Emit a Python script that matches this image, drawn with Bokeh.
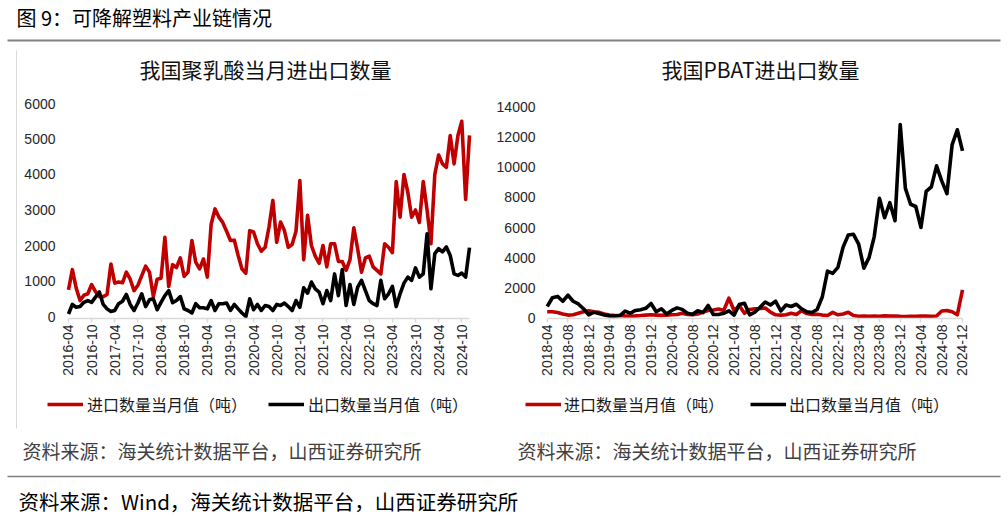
import math
import pandas as pd
from bokeh.plotting import figure
from bokeh.models import (Range1d, FixedTicker, Label, Legend, LegendItem,
                          BoxAnnotation, ColumnDataSource)
from bokeh.layouts import column, row
from bokeh.embed import file_html
from bokeh.resources import INLINE

# ---------------- texts ----------------
FIG_TITLE = "图 9：可降解塑料产业链情况"
FOOT_TEXT = "资料来源：Wind，海关统计数据平台，山西证券研究所"
SRC_TEXT = "资料来源：海关统计数据平台，山西证券研究所"
PLA_TITLE = "我国聚乳酸当月进出口数量"
PBAT_TITLE = "我国PBAT进出口数量"
IMPORT_NAME = "进口数量当月值（吨）"
EXPORT_NAME = "出口数量当月值（吨）"

# ---------------- PLA (monthly, 2016-04 .. 2024-12) ----------------
pla_start = "2016-04"
pla_import = [750, 1320, 800, 450, 600, 640, 900, 700, 560, 560,
              620, 1480, 940, 970, 950, 1250, 1050, 730, 880, 1150,
              1420, 1250, 570, 1050, 1080, 2230, 845, 1460, 1380, 1650,
              1130, 1250, 2140, 1530, 1340, 1620, 1110, 2600, 3030, 2800,
              2650, 2400, 2140, 2150, 1720, 1340, 1220, 2420, 2380, 2050,
              1840, 1950, 2520, 3270, 2090, 2660, 2420, 1950, 2030, 2400,
              3830, 1600, 2850, 2000, 1700, 1500, 2000, 1400, 2050, 2050,
              1550, 1550, 1300, 1600, 2500, 1900, 1250, 1650, 1700, 1400,
              1300, 1200, 2050, 1950, 1800, 3800, 2800, 4000, 3500, 2800,
              3000, 2650, 3800, 3000, 2050, 4000, 4550, 4300, 4200, 5100,
              4300, 5100, 5500, 3300, 5100]
pla_export = [70, 340, 260, 280, 400, 450, 400, 545, 690, 340,
              215, 140, 170, 360, 430, 620, 340, 170, 380, 640,
              280, 470, 500, 190, 400, 590, 730, 390, 450, 560,
              215, 170, 100, 360, 245, 245, 215, 450, 170, 360,
              360, 380, 170, 340, 215, 100, 0, 500, 190, 340,
              170, 310, 280, 170, 340, 310, 380, 280, 170, 450,
              260, 810, 660, 970, 780, 690, 360, 730, 450, 1200,
              590, 1320, 310, 900, 340, 830, 1020, 730, 450, 360,
              310, 1020, 500, 640, 850, 280, 640, 940, 1110, 1020,
              1370, 1110, 1200, 2330, 780, 1770, 1910, 1820, 1960, 1720,
              1200, 1160, 1220, 1110, 1940]
pla_tick_labels = ["2016-04", "2016-10", "2017-04", "2017-10", "2018-04", "2018-10",
                   "2019-04", "2019-10", "2020-04", "2020-10", "2021-04", "2021-10",
                   "2022-04", "2022-10", "2023-04", "2023-10", "2024-04", "2024-10"]
pla_y_ticks = [0, 1000, 2000, 3000, 4000, 5000, 6000]

# ---------------- PBAT (monthly, 2018-04 .. 2024-12) ----------------
pbat_start = "2018-04"
pbat_import = [400, 400, 350, 250, 180, 200, 300, 400, 460, 400,
               360, 250, 180, 150, 150, 130, 120, 130, 150, 180,
               200, 180, 160, 180, 200, 220, 300, 220, 200, 250,
               380, 490, 520, 580, 480, 1300, 480, 800, 300, 550,
               600, 620, 650, 380, 200, 180, 200, 300, 220, 480,
               280, 220, 230, 180, 150, 360, 200, 250, 370, 150,
               100, 110, 100, 120, 100, 130, 110, 120, 100, 90,
               100, 100, 120, 110, 100, 120, 450, 480, 400, 200,
               1850]
pbat_export = [750, 1330, 1420, 1100, 1500, 1100, 920, 600, 200, 370,
               290, 180, 120, 120, 150, 440, 300, 490, 540, 630,
               950, 400, 600, 250, 490, 660, 560, 300, 230, 470,
               340, 820, 220, 220, 300, 460, 180, 880, 970, 200,
               380, 700, 1050, 850, 1100, 450, 850, 750, 900, 600,
               400, 350, 550, 1400, 3100, 2950, 3350, 4700, 5500, 5550,
               4900, 3300, 4000, 5400, 7950, 6650, 7650, 6450, 12850, 8600,
               7550, 7400, 6000, 8400, 8700, 10100, 9100, 8250, 11500, 12500,
               11100]
pbat_tick_labels = ["2018-04", "2018-08", "2018-12", "2019-04", "2019-08", "2019-12",
                    "2020-04", "2020-08", "2020-12", "2021-04", "2021-08", "2021-12",
                    "2022-04", "2022-08", "2022-12", "2023-04", "2023-08", "2023-12",
                    "2024-04", "2024-08", "2024-12"]
pbat_y_ticks = [0, 2000, 4000, 6000, 8000, 10000, 12000, 14000]

RED = "#C00000"
BLACK = "#000000"
CJK = "Noto Sans CJK SC"
NUM = "Liberation Sans"
LW = 3.6


def blank(width, height):
    """A figure without axes whose data units equal pixels (y upward)."""
    p = figure(width=width, height=height, x_range=Range1d(0, width), y_range=Range1d(0, height),
               output_backend="svg", toolbar_location=None, title=None, min_border=0,
               x_axis_location=None, y_axis_location=None, frame_align=False)
    p.outline_line_color = None
    p.grid.visible = False
    return p


def hline(p, x0, x1, y, width, color):
    p.add_layout(BoxAnnotation(left=x0, right=x1, bottom=y - width / 2, top=y + width / 2,
                               fill_color=color, fill_alpha=1, line_color=None))


def make_column(width, b_left, b_right, start, imp, exp, tick_labels, y_ticks,
                x_range, y_range, title, title_x, legend_x, legend_spacing, legend_standoff,
                src_x, standoff_y):
    # --- title strip (page y 44..95) ---
    t = blank(width, 51)
    t.add_layout(Label(x=title_x, y=27, text=title, text_align="center", text_baseline="middle",
                       text_font=CJK, text_font_size="21px", text_color="#111111"))

    # --- chart (page y 95..387, frame 95..318) ---
    months = list(pd.period_range(start, periods=len(imp), freq="M").strftime("%Y-%m"))
    src = ColumnDataSource(dict(x=list(range(len(imp))), imp=imp, exp=exp, m=months))
    p = figure(width=width, height=292, x_range=Range1d(*x_range), y_range=Range1d(*y_range),
               output_backend="svg", toolbar_location=None, title=None,
               min_border_left=b_left, min_border_right=b_right,
               min_border_top=0, min_border_bottom=69, frame_align=False)
    p.outline_line_color = None
    p.xgrid.visible = False
    p.ygrid.visible = False
    p.line("x", "imp", source=src, line_color=RED, line_width=LW, line_join="round")
    p.line("x", "exp", source=src, line_color=BLACK, line_width=LW, line_join="round")

    tick_pos = [months.index(tl) for tl in tick_labels]
    xa = p.xaxis[0]
    xa.ticker = FixedTicker(ticks=tick_pos)
    xa.major_label_overrides = {pos: lab for pos, lab in zip(tick_pos, tick_labels)}
    xa.major_label_orientation = math.pi / 2
    xa.minor_tick_line_color = None
    xa.axis_line_color = "#D9D9D9"
    xa.axis_line_width = 1.5
    xa.major_tick_line_color = "#D9D9D9"
    xa.major_tick_line_width = 1.5
    xa.major_tick_in = 0
    xa.major_tick_out = 4
    xa.major_label_standoff = 2
    xa.bounds = (0, len(imp) - 1)
    xa.major_label_text_font = NUM
    xa.major_label_text_font_size = "14px"
    xa.major_label_text_color = "#262626"

    ya = p.yaxis[0]
    ya.ticker = FixedTicker(ticks=y_ticks)
    ya.axis_line_color = None
    ya.major_tick_line_color = None
    ya.minor_tick_line_color = None
    ya.major_tick_out = 0
    ya.major_tick_in = 0
    ya.major_label_standoff = standoff_y
    ya.major_label_text_font = NUM
    ya.major_label_text_font_size = "14px"
    ya.major_label_text_color = "#262626"

    # --- legend + source strip (page y 387..474) ---
    g = blank(width, 87)
    swatch = ColumnDataSource(dict(x=[float("nan")], y=[float("nan")]))
    g1 = g.line("x", "y", source=swatch, line_color=RED, line_width=LW)
    g2 = g.line("x", "y", source=swatch, line_color=BLACK, line_width=LW)
    legend = Legend(items=[LegendItem(label=IMPORT_NAME, renderers=[g1]),
                           LegendItem(label=EXPORT_NAME, renderers=[g2])],
                    location=(legend_x, 58), orientation="horizontal",
                    glyph_width=36, glyph_height=20, label_height=20,
                    label_standoff=legend_standoff,
                    spacing=legend_spacing, padding=0, margin=0,
                    border_line_color=None, background_fill_alpha=0,
                    label_text_font=CJK, label_text_font_size="16px",
                    label_text_color="#1a1a1a")
    g.add_layout(legend)
    g.add_layout(Label(x=src_x, y=24, text=SRC_TEXT, text_align="left", text_baseline="middle",
                       text_font=CJK, text_font_size="19px", text_color="#404040"))
    return column(t, p, g, spacing=0)


# thin frame line at the left of the first chart (page x 16, y 50..428)
edge = blank(17, 430)
edge.add_layout(BoxAnnotation(left=15.5, right=16.5, bottom=46, top=424,
                              fill_color="#D9D9D9", fill_alpha=1, line_color=None))

# left chart column: page x 17..490, frame page x 62..476
left = make_column(473, 45, 14, pla_start, pla_import, pla_export, pla_tick_labels, pla_y_ticks,
                   x_range=(-1.556, 105.815), y_range=(-56, 6225), title=PLA_TITLE, title_x=248,
                   legend_x=30, legend_spacing=21, legend_standoff=4, src_x=5, standoff_y=7)

# right chart column: page x 490..1008, frame page x 541..968
right = make_column(518, 51, 40, pbat_start, pbat_import, pbat_export, pbat_tick_labels, pbat_y_ticks,
                    x_range=(-1.098, 81.156), y_range=(-47, 14778), title=PBAT_TITLE, title_x=270,
                    legend_x=35, legend_spacing=26, legend_standoff=3, src_x=27, standoff_y=6)

# header (page y 0..44)
hdr = blank(1008, 44)
hdr.add_layout(Label(x=16, y=27.3, text=FIG_TITLE, text_align="left", text_baseline="middle",
                     text_font=CJK, text_font_size="20px", text_color="#000000"))
hline(hdr, 7, 1000, 4, 2, "#808080")

# footer (page y 474..517)
ftr = blank(1008, 43)
hline(ftr, 7, 1000, 41, 1.5, "#808080")
ftr.add_layout(Label(x=18, y=17, text=FOOT_TEXT, text_align="left", text_baseline="middle",
                     text_font=CJK, text_font_size="20.5px", text_color="#000000"))

layout = column(hdr, row(edge, left, right, spacing=0), ftr, spacing=0)
open("out.html", "w").write(file_html(layout, INLINE))
